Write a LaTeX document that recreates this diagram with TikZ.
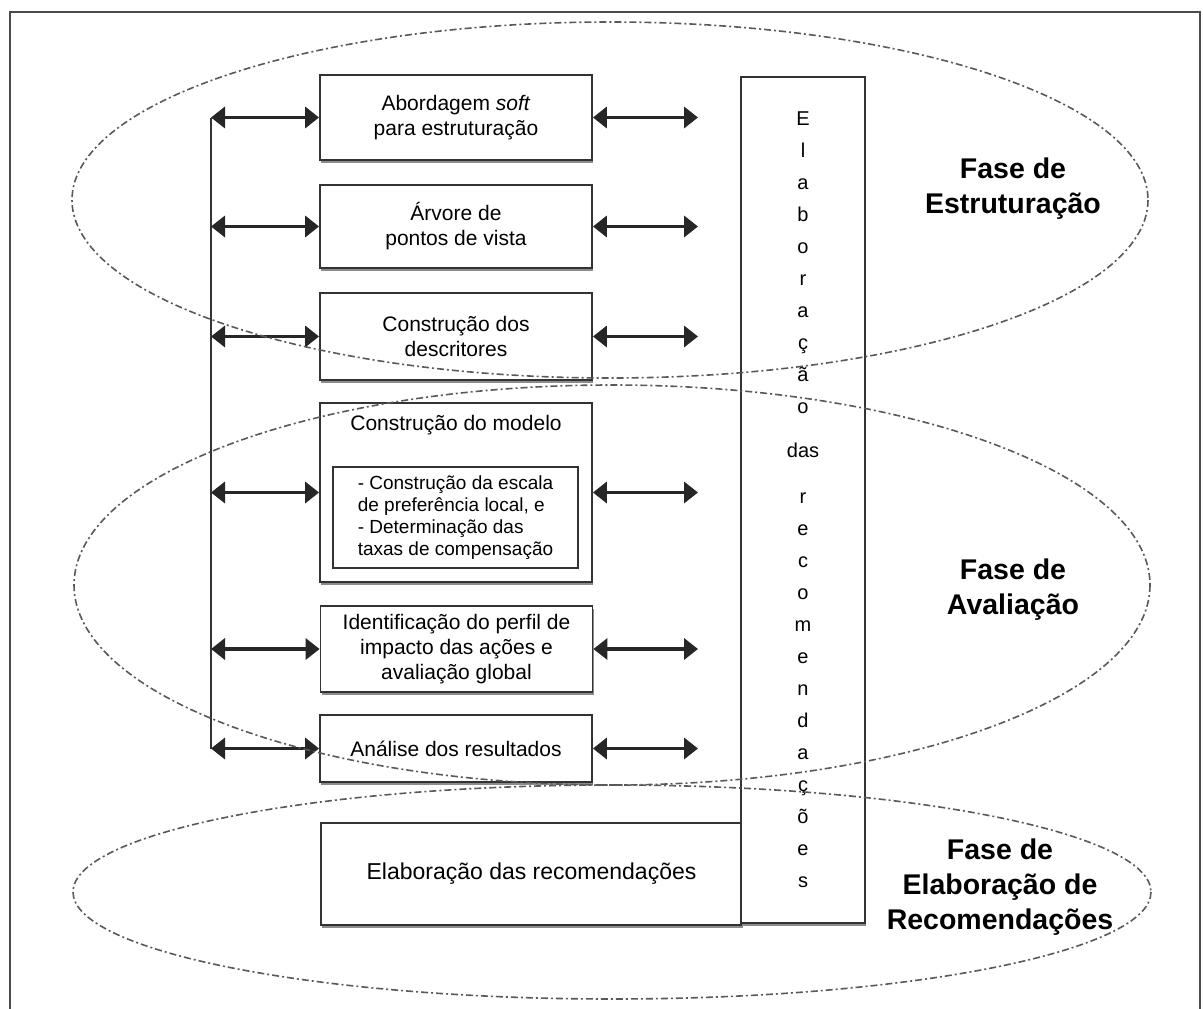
\documentclass[tikz,border=0pt]{standalone}
\usepackage{fontspec}
\setmainfont{Liberation Sans}
\usetikzlibrary{arrows.meta, positioning, shadows}

\begin{document}
\begin{tikzpicture}[x=1pt, y=-1pt, >={Triangle[length=14pt, width=21pt]},
    caixa/.style={draw=black!80, line width=1.8pt, fill=white, align=center, inner sep=0pt,
        minimum width=272pt, font=\fontsize{21}{25}\selectfont,
        drop shadow={shadow xshift=1pt, shadow yshift=-2.5pt, fill=black!45, opacity=1}},
    seta/.style={<->, line width=3.5pt, draw=black!85},
    elipse/.style={draw=black!65, line width=1.6pt, dash pattern=on 7pt off 3pt on 2pt off 3pt},
    fase/.style={font=\fontsize{28.5}{35}\selectfont\bfseries, align=center}]
    \useasboundingbox (0,0) rectangle (1203,1009);

    % Moldura
    \draw[line width=2.5pt, black!70] (10,1009) -- (10,12) -- (1200,12) -- (1200,1009);

    % Etapas
    \node[caixa, minimum height=85pt] (abord) at (456,117.5) {Abordagem \textit{soft}\\para estruturação};
    \node[caixa, minimum height=83pt] (arvore) at (456,226.5) {Árvore de\\pontos de vista};
    \node[caixa, minimum height=87pt] (descr) at (456,336.5) {Construção dos\\descritores};
    \node[caixa, minimum height=179pt] (modelo) at (456,492.5) {};
    \node[font=\fontsize{21}{25}\selectfont] (titmod) at (456,425) {Construção do modelo};
    \node[draw=black!80, line width=1.5pt, minimum width=245pt, minimum height=101pt, inner sep=0pt,
        align=left, font=\fontsize{19}{22}\selectfont] (escala) at (455.5,517.5)
        {- Construção da escala\\de preferência local, e\\- Determinação das\\taxas de compensação};
    \node[caixa, minimum height=86pt] (perfil) at (456.5,649) {Identificação do perfil de\\impacto das ações e\\avaliação global};
    \node[caixa, minimum height=67pt] (analise) at (456,748.5) {Análise dos resultados};
    \node[caixa, minimum width=421pt, minimum height=102pt, font=\fontsize{23}{27}\selectfont] (recom) at (531.5,874)
        {Elaboração das recomendações};

    % Coluna vertical
    \node[caixa, minimum width=124pt, minimum height=846pt, font=\fontsize{20}{32}\selectfont] (vert) at (803,500)
        {E\\l\\a\\b\\o\\r\\a\\ç\\ã\\o\\[12pt]das\\[14pt]r\\e\\c\\o\\m\\e\\n\\d\\a\\ç\\õ\\e\\s};

    % Setas
    \coordinate (lin) at (211,0);
    \coordinate (dir) at (698,0);
    \draw[line width=2pt, black!80] (abord.west -| lin) -- (analise.west -| lin);
    \draw[seta] (abord.west -| lin) -- (abord.west);
    \draw[seta] (arvore.west -| lin) -- (arvore.west);
    \draw[seta] (descr.west -| lin) -- (descr.west);
    \draw[seta] (modelo.west -| lin) -- (modelo.west);
    \draw[seta] (perfil.west -| lin) -- (perfil.west);
    \draw[seta] (analise.west -| lin) -- (analise.west);
    \draw[seta] (abord.east) -- (abord.east -| dir);
    \draw[seta] (arvore.east) -- (arvore.east -| dir);
    \draw[seta] (descr.east) -- (descr.east -| dir);
    \draw[seta] (modelo.east) -- (modelo.east -| dir);
    \draw[seta] (perfil.east) -- (perfil.east -| dir);
    \draw[seta] (analise.east) -- (analise.east -| dir);

    % Fases
    \draw[elipse] (610,200) ellipse [x radius=538, y radius=178];
    \draw[elipse] (612,585) ellipse [x radius=538, y radius=200];
    \draw[elipse] (612,892) ellipse [x radius=539, y radius=107];
    \node[fase] (fest) at (1013,189) {Fase de\\Estruturação};
    \node[fase] (faval) at (1013,590) {Fase de\\Avaliação};
    \node[fase] (frec) at (1000,887) {Fase de\\Elaboração de\\Recomendações};
\end{tikzpicture}
\end{document}
